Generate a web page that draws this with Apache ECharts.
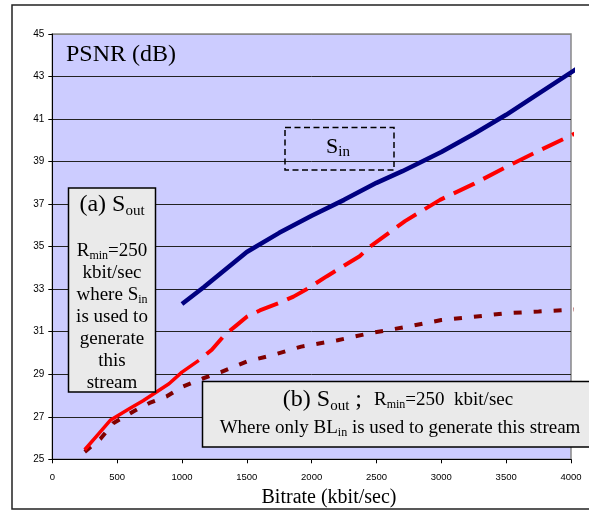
<!DOCTYPE html>
<html>
<head>
<meta charset="utf-8">
<script src="https://cdn.jsdelivr.net/npm/echarts@6/dist/echarts.min.js"></script>
<style>
html,body{margin:0;padding:0;background:#fff;}
#c{width:589px;height:512px;}
</style>
</head>
<body>
<div id="c"></div>
<script>
// ---- data ----
const xTicks = [0, 500, 1000, 1500, 2000, 2500, 3000, 3500, 4000];
const yTicks = [25, 27, 29, 31, 33, 35, 37, 39, 41, 43, 45];

// S_in (blue, solid)
const sinX = [1000, 1170, 1250, 1500, 1750, 2000, 2250, 2500, 2700, 3000, 3250, 3500, 3750, 4040];
const sinY = [32.3, 33.1, 33.5, 34.75, 35.65, 36.45, 37.2, 38.0, 38.55, 39.45, 40.3, 41.2, 42.2, 43.35];

// (a) S_out (red) - solid start
const soutASolidX = [250, 350, 450, 600, 700, 900, 1000, 1130];
const soutASolidY = [25.45, 26.15, 26.85, 27.4, 27.75, 28.55, 29.1, 29.65];
// (a) S_out (red) - dashed remainder
const soutADashX = [1130, 1230, 1330, 1420, 1500, 1600, 1750, 1860, 1975, 2115, 2370, 2450, 2720, 2990, 3250, 3500, 3750, 4040];
const soutADashY = [29.65, 30.15, 30.85, 31.3, 31.7, 32.0, 32.35, 32.65, 33.05, 33.6, 34.55, 35.0, 36.2, 37.2, 37.95, 38.75, 39.5, 40.35];

// (b) S_out (dark red, short dashes)
const soutBX = [250, 370, 470, 625, 750, 880, 1000, 1160, 1300, 1500, 1700, 1920, 2200, 2450, 2750, 3000, 3250, 3500, 3750, 4040];
const soutBY = [25.35, 25.95, 26.7, 27.25, 27.65, 27.95, 28.4, 28.8, 29.1, 29.6, 29.9, 30.3, 30.6, 30.93, 31.25, 31.55, 31.7, 31.87, 31.95, 32.05];

const pair = (xs, ys) => xs.map((x, i) => [x, ys[i]]);

const SERIF = '"Liberation Serif", "Times New Roman", serif';
const SANS = '"Liberation Sans", Arial, sans-serif';

function rich(main, sub) {
  return {
    m: { fontSize: main, fontFamily: SERIF, fill: '#000' },
    s: { fontSize: sub, fontFamily: SERIF, fill: '#000', padding: [Math.round(main * 0.5), 0, 0, 0] },
    r: { fontSize: 19, fontFamily: SERIF, fill: '#000' },
    rs: { fontSize: 12, fontFamily: SERIF, fill: '#000', padding: [9, 0, 0, 0] }
  };
}
function txt(x, y, text, richStyle, align, z) {
  return {
    type: 'text', x: x, y: y, z: z || 110,
    style: { text: text, rich: richStyle, align: align || 'center', verticalAlign: 'middle', fill: '#000' }
  };
}

const chart = echarts.init(document.getElementById('c'), null, { renderer: 'canvas' });

const aLines = [
  ['{m|(a) S}{s|out}', 205, rich(24, 15)],
  ['{r|R}{rs|min}{r|=250}', 251, rich(19, 12)],
  ['{r|kbit/sec}', 273, rich(19, 12)],
  ['{r|where S}{rs|in}', 295, rich(19, 12)],
  ['{r|is used to}', 317, rich(19, 12)],
  ['{r|generate}', 339, rich(19, 12)],
  ['{r|this}', 361, rich(19, 12)],
  ['{r|stream}', 383, rich(19, 12)]
];

const graphics = [
  // outer frame
  { type: 'rect', z: 120, shape: { x: 12, y: 5, width: 600, height: 504 },
    style: { fill: 'none', stroke: '#222', lineWidth: 1.5 } },
  // PSNR label
  txt(66, 55, '{m|PSNR (dB)}', rich(24, 15), 'left'),
  // S_in dashed box
  { type: 'rect', z: 110, shape: { x: 285, y: 127.5, width: 109, height: 42.5 },
    style: { fill: 'none', stroke: '#000', lineWidth: 1.5, lineDash: [6, 3.5] } },
  txt(338, 147, '{m|S}{s|in}', rich(22, 15)),
  // box (a)
  { type: 'rect', z: 105, shape: { x: 68.5, y: 188, width: 87, height: 204 },
    style: { fill: '#EAEAEA', stroke: '#000', lineWidth: 1.5 } },
  // box (b)
  { type: 'rect', z: 105, shape: { x: 202.5, y: 381.5, width: 400, height: 65.5 },
    style: { fill: '#EAEAEA', stroke: '#000', lineWidth: 1.5 } },
  txt(398, 400, '{m|(b) S}{s|out}{m| ;  }{r|R}{rs|min}{r|=250  kbit/sec}', rich(24, 15)),
  txt(400, 428, '{r|Where only BL}{rs|in}{r| is used to generate this stream}', rich(19, 12)),
  // x axis title
  txt(329, 498, '{m|Bitrate (kbit/sec)}', rich(20, 13))
];
aLines.forEach(l => graphics.push(txt(112, l[1], l[0], l[2])));

const option = {
  animation: false,
  backgroundColor: '#fff',
  grid: { left: 52.3, top: 34, right: 18, bottom: 52.7, show: true,
          backgroundColor: '#CCCCFF', borderColor: '#888', borderWidth: 1.5 },
  xAxis: {
    type: 'value', min: xTicks[0], max: xTicks[xTicks.length - 1], interval: xTicks[1] - xTicks[0],
    axisLine: { show: true, onZero: false, lineStyle: { color: '#000', width: 1 } },
    axisTick: { show: true, inside: false, length: 4, lineStyle: { color: '#000' } },
    axisLabel: { fontSize: 9.5, color: '#000', fontFamily: SANS, margin: 13, formatter: v => String(v) },
    splitLine: { show: false }
  },
  yAxis: {
    type: 'value', min: yTicks[0], max: yTicks[yTicks.length - 1], interval: yTicks[1] - yTicks[0],
    axisLine: { show: true, onZero: false, lineStyle: { color: '#000', width: 1 } },
    axisTick: { show: true, inside: false, length: 4, lineStyle: { color: '#000' } },
    axisLabel: { fontSize: 10, color: '#000', fontFamily: SANS, margin: 8, formatter: v => String(v) },
    splitLine: { show: true, lineStyle: { width: 1, color: yTicks.map((v, i) => i === yTicks.length - 1 ? '#888' : '#222') } }
  },
  series: [
    { type: 'line', data: pair(sinX, sinY), symbol: 'none', clip: false, z: 5,
      lineStyle: { color: '#000080', width: 4.5 } },
    { type: 'line', data: pair(soutASolidX, soutASolidY), symbol: 'none', clip: false, z: 4,
      lineStyle: { color: '#FF0000', width: 3.5 } },
    { type: 'line', data: pair(soutADashX, soutADashY), symbol: 'none', clip: false, z: 4,
      lineStyle: { color: '#FF0000', width: 4, type: [23, 10], dashOffset: 23 } },
    { type: 'line', data: pair(soutBX, soutBY), symbol: 'none', clip: false, z: 3,
      lineStyle: { color: '#800000', width: 4, type: [8, 12] } }
  ],
  graphic: graphics
};
chart.setOption(option);
</script>
</body>
</html>
